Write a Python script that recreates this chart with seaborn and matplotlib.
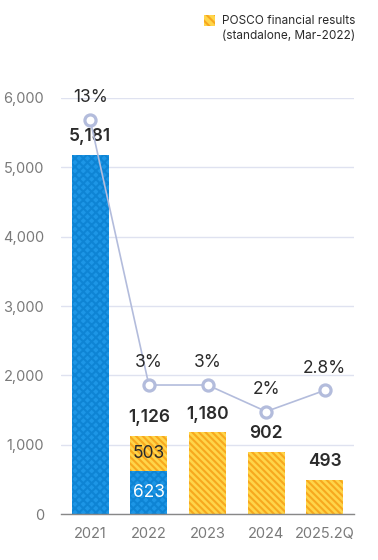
import matplotlib
matplotlib.use("Agg")
import matplotlib.pyplot as plt
import seaborn as sns
from matplotlib.patches import Rectangle

years = ["2021", "2022", "2023", "2024", "2025.2Q"]
pre_split = [5181, 623, 0, 0, 0]          # blue part
standalone = [0, 503, 1180, 902, 493]     # POSCO standalone (yellow)
margin_pct = [13, 3, 3, 2, 2.8]
margin_labels = ["13%", "3%", "3%", "2%", "2.8%"]
yticks = [0, 1000, 2000, 3000, 4000, 5000, 6000]

totals = [a + b for a, b in zip(pre_split, standalone)]

sns.set_theme(style="white")
plt.rcParams["font.family"] = ["Inter", "DejaVu Sans"]
plt.rcParams["hatch.linewidth"] = 1.5

BLUE = "#1d96e6"
BLUE_DARK = "#0e84d4"
YELLOW = "#ffd54a"
ORANGE = "#f7a81e"
LINE = "#b3bcdc"
DARK = "#2b2b2b"
GRAY = "#7a7a7a"
Y_HATCH = "\\" * 5
B_HATCH = "xxxx"

fig = plt.figure(figsize=(3.78, 5.6), dpi=100)
ax = fig.add_axes([0.161, 0.082, 0.776, 0.743])

# total bars (yellow hatched), then blue part on top
sns.barplot(x=years, y=totals, color=YELLOW, width=0.63, saturation=1, ax=ax)
n = len(years)
for p in ax.patches[:n]:
    p.set_facecolor(YELLOW)
    p.set_edgecolor(ORANGE)
    p.set_linewidth(0)
    p.set_hatch(Y_HATCH)
sns.barplot(x=years, y=pre_split, color=BLUE, width=0.63, saturation=1, ax=ax)
for p in ax.patches[n:]:
    p.set_facecolor(BLUE)
    p.set_edgecolor(BLUE_DARK)
    p.set_linewidth(0)
    p.set_hatch(B_HATCH)

ax.set_ylim(0, 6000)
ax.set_xlim(-0.5, n - 0.5)
ax.set_yticks(yticks)
ax.set_yticklabels([f"{v:,}" for v in yticks])
ax.yaxis.grid(True, color="#dfe2f0", linewidth=1)
ax.set_axisbelow(True)
for s in ["left", "right", "top"]:
    ax.spines[s].set_visible(False)
ax.spines["bottom"].set_color("#888888")
ax.spines["bottom"].set_linewidth(1)
ax.set_xticks([i - 0.5 for i in range(n + 1)], minor=True)
ax.tick_params(axis="x", which="minor", length=5, color="#888888", width=1, direction="out")
ax.tick_params(axis="x", which="major", length=0, pad=9, labelsize=10.5, labelcolor=GRAY)
ax.tick_params(axis="y", length=0, pad=12, labelsize=10.5, labelcolor=GRAY)
ax.set_xlabel("")
ax.set_ylabel("")

# value labels
for i, t in enumerate(totals):
    ax.annotate(f"{t:,}", (i, t), xytext=(0, 13), textcoords="offset points",
                ha="center", va="center", fontsize=12.5, fontweight="semibold", color=DARK)
i = 1
ax.text(i, pre_split[i] + standalone[i] / 2, f"{standalone[i]:,}", ha="center", va="center",
        fontsize=12.5, color=DARK)
ax.text(i, pre_split[i] / 2, f"{pre_split[i]:,}", ha="center", va="center",
        fontsize=12.5, color="white")

# margin line on twin axis
ax2 = ax.twinx()
sns.lineplot(x=years, y=margin_pct, ax=ax2, color=LINE, linewidth=1.2, sort=False,
             marker="o", markersize=8, markerfacecolor="white", markeredgecolor=LINE,
             markeredgewidth=2.3)
ax2.set_ylim(-1.87, 13.83)
ax2.set_yticks([])
ax2.set_ylabel("")
for s in ax2.spines.values():
    s.set_visible(False)
for i, (v, lab) in enumerate(zip(margin_pct, margin_labels)):
    ax2.annotate(lab, (i, v), xytext=(0, 16), textcoords="offset points",
                 ha="center", va="center", fontsize=12.5, color=DARK)

# legend (right-aligned two-line label with hatched swatch)
fig.text(355 / 378, 1 - 21 / 560, "POSCO financial results", ha="right", va="center",
         fontsize=8.5, color=DARK)
fig.text(355 / 378, 1 - 36 / 560, "(standalone, Mar-2022)", ha="right", va="center",
         fontsize=8.5, color=DARK)
sw = Rectangle((204 / 378, 1 - 26 / 560), 11 / 378, 11 / 560, transform=fig.transFigure,
               facecolor=YELLOW, edgecolor=ORANGE, hatch="\\\\\\\\", linewidth=0)
fig.patches.append(sw)

fig.savefig("out.png", dpi=100)
